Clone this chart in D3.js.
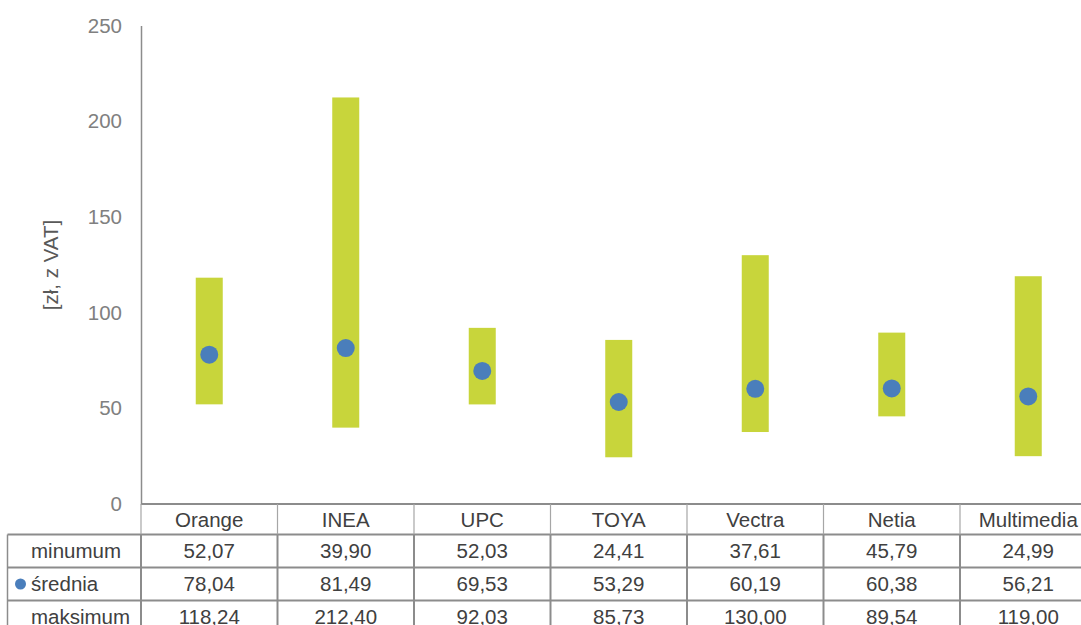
<!DOCTYPE html>
<html>
<head>
<meta charset="utf-8">
<script src="https://cdn.jsdelivr.net/npm/d3@7"></script>
<style>
  body { margin: 0; background: #fff; }
  text { font-family: "Liberation Sans", Arial, sans-serif; }
</style>
</head>
<body>
<div id="chart"></div>
<script>
// data
var operators = ["Orange", "INEA", "UPC", "TOYA", "Vectra", "Netia", "Multimedia"];
var minimum = [52.07, 39.90, 52.03, 24.41, 37.61, 45.79, 24.99];
var srednia = [78.04, 81.49, 69.53, 53.29, 60.19, 60.38, 56.21];
var maksimum = [118.24, 212.40, 92.03, 85.73, 130.00, 89.54, 119.00];
var rowLabels = ["minumum", "średnia", "maksimum"];
var yTicks = [0, 50, 100, 150, 200, 250];

var W = 1081, H = 625;
var plotLeft = 141, plotRight = 1096.5, plotTop = 25.5, plotBottom = 504;
var rowH = 33, headH = 30.5;
var fs = "20.5px";

var barColor = "#c8d53b";
var dotColor = "#4a7ebb";
var lineColor = "#8c8c8c";

var svg = d3.select("#chart").append("svg")
  .attr("width", W)
  .attr("height", H);

var x = d3.scaleBand().domain(operators).range([plotLeft, plotRight]);
var y = d3.scaleLinear().domain([0, 250]).range([plotBottom, plotTop]);

// y axis
var yAxis = svg.append("g")
  .attr("transform", "translate(" + plotLeft + ",0)")
  .call(d3.axisLeft(y).tickValues(yTicks).tickSize(0).tickPadding(19));
yAxis.select(".domain").attr("stroke", lineColor).attr("stroke-width", 1.5);
yAxis.selectAll("text")
  .style("font-size", fs)
  .style("font-family", "'Liberation Sans', Arial, sans-serif")
  .attr("fill", "#808080")
  .attr("dy", "0.32em");

svg.append("text")
  .attr("transform", "translate(51,265) rotate(-90)")
  .style("text-anchor", "middle")
  .attr("dy", "0.35em")
  .style("font-size", fs)
  .attr("fill", "#595959")
  .text("[zł, z VAT]");

// floating bars min..max
var barW = 27;
svg.selectAll("rect.bar")
  .data(operators)
  .enter().append("rect")
  .attr("class", "bar")
  .attr("x", function(d) { return x(d) + x.bandwidth() / 2 - barW / 2; })
  .attr("width", barW)
  .attr("y", function(d, i) { return y(maksimum[i]); })
  .attr("height", function(d, i) { return y(minimum[i]) - y(maksimum[i]); })
  .attr("fill", barColor);

// mean dots
svg.selectAll("circle.dot")
  .data(operators)
  .enter().append("circle")
  .attr("class", "dot")
  .attr("cx", function(d) { return x(d) + x.bandwidth() / 2; })
  .attr("cy", function(d, i) { return y(srednia[i]); })
  .attr("r", 9)
  .attr("fill", dotColor);

// data table
var fmt = function(v) { return v.toFixed(2).replace(".", ","); };
var rows = [minimum, srednia, maksimum];
var tbl = svg.append("g");
var rowTop = plotBottom + headH;

// horizontal lines
tbl.append("line")
  .attr("x1", plotLeft).attr("x2", plotRight)
  .attr("y1", plotBottom).attr("y2", plotBottom)
  .attr("stroke", lineColor).attr("stroke-width", 2);
for (var r = 0; r < 3; r++) {
  tbl.append("line")
    .attr("x1", 7.5).attr("x2", plotRight)
    .attr("y1", rowTop + r * rowH).attr("y2", rowTop + r * rowH)
    .attr("stroke", lineColor).attr("stroke-width", 2);
}
// vertical lines
tbl.append("line")
  .attr("x1", 7.5).attr("x2", 7.5)
  .attr("y1", rowTop).attr("y2", H)
  .attr("stroke", lineColor).attr("stroke-width", 1.5);
operators.forEach(function(d) {
  var xx = x(d);
  tbl.append("line")
    .attr("x1", xx).attr("x2", xx)
    .attr("y1", plotBottom).attr("y2", rowTop)
    .attr("stroke", "#a6a6a6").attr("stroke-width", 1.2);
  tbl.append("line")
    .attr("x1", xx).attr("x2", xx)
    .attr("y1", rowTop).attr("y2", H)
    .attr("stroke", lineColor).attr("stroke-width", 2);
});

// header
tbl.selectAll("text.head")
  .data(operators)
  .enter().append("text")
  .attr("class", "head")
  .attr("x", function(d) { return x(d) + x.bandwidth() / 2; })
  .attr("y", plotBottom + headH / 2 + 1)
  .attr("dy", "0.35em")
  .style("text-anchor", "middle")
  .style("font-size", fs)
  .attr("fill", "#404040")
  .text(function(d) { return d; });

// rows
rows.forEach(function(vals, r) {
  var cy = rowTop + r * rowH + rowH / 2;
  tbl.append("text")
    .attr("x", 31)
    .attr("y", cy)
    .attr("dy", "0.35em")
    .style("font-size", fs)
    .attr("fill", "#404040")
    .text(rowLabels[r]);
  if (r === 1) {
    tbl.append("circle")
      .attr("cx", 20.5).attr("cy", cy)
      .attr("r", 5.5)
      .attr("fill", dotColor);
  }
  tbl.selectAll("text.v" + r)
    .data(vals)
    .enter().append("text")
    .attr("class", "v" + r)
    .attr("x", function(v, i) { return x(operators[i]) + x.bandwidth() / 2; })
    .attr("y", cy)
    .attr("dy", "0.35em")
    .style("text-anchor", "middle")
    .style("font-size", fs)
    .attr("fill", "#404040")
    .text(fmt);
});
</script>
</body>
</html>
